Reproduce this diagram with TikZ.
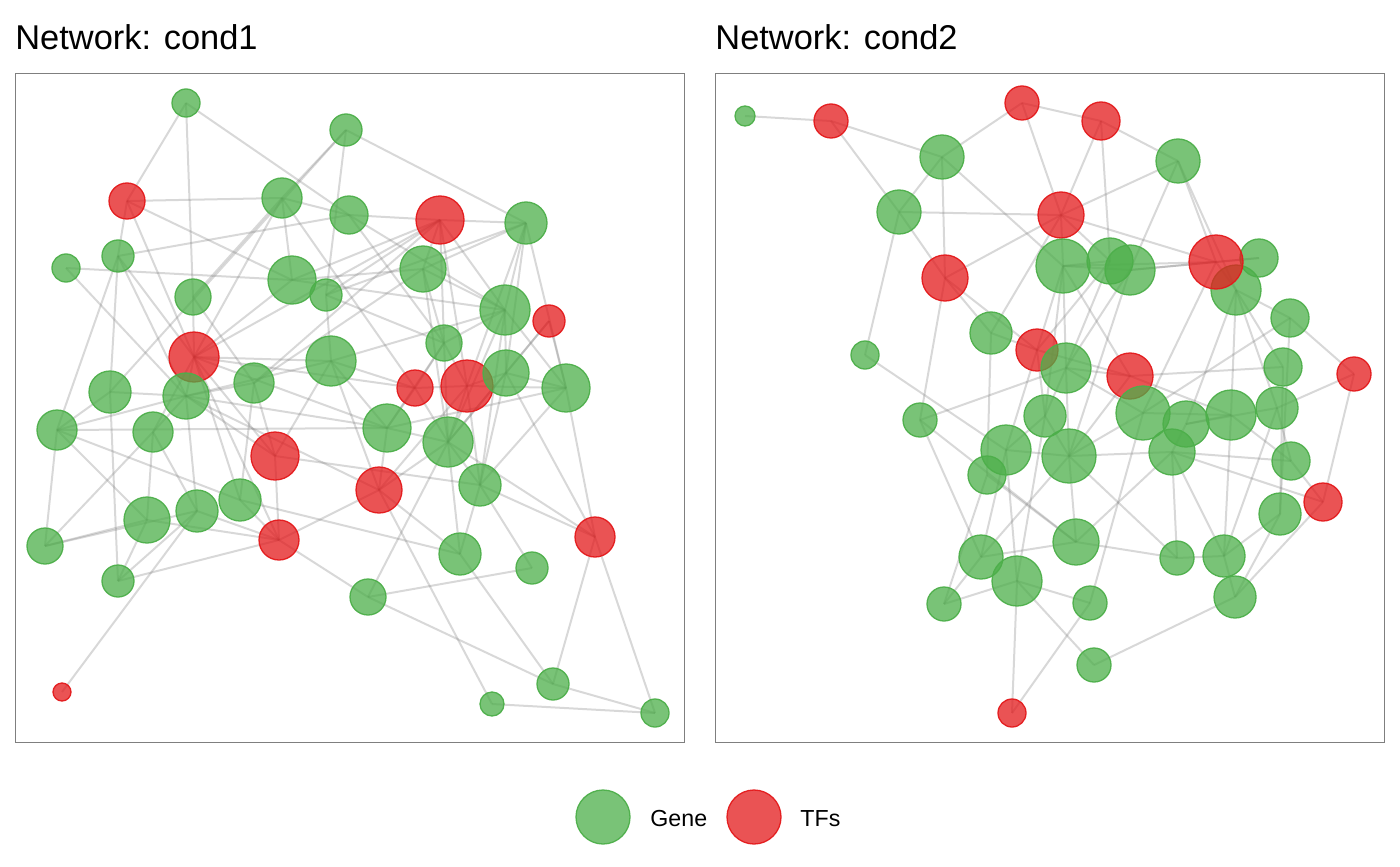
\documentclass[tikz,border=0pt]{standalone}
\usepackage{fontspec}
\setmainfont{Liberation Sans}
\usetikzlibrary{backgrounds}
\definecolor{geneC}{HTML}{4DAF4A}
\definecolor{tfC}{HTML}{E41A1C}
\definecolor{frameC}{HTML}{7F7F7F}
\tikzset{
  gn/.style={circle,inner sep=0pt,minimum size=#1pt,fill=geneC,fill opacity=0.75,draw=geneC,draw opacity=0.95,line width=0.65pt},
  tf/.style={circle,inner sep=0pt,minimum size=#1pt,fill=tfC,fill opacity=0.75,draw=tfC,draw opacity=0.95,line width=0.65pt},
  ed/.style={draw=black!50,draw opacity=0.3,line width=1pt},
  panel/.style={draw=frameC,line width=0.5pt},
  ttl/.style={anchor=base west,inner sep=0pt,font=\fontsize{17.2}{20}\selectfont},
  lg/.style={anchor=base west,inner sep=0pt,font=\fontsize{11.6}{14}\selectfont}
}
\begin{document}
\begin{tikzpicture}[x=0.5pt,y=-0.5pt]
\useasboundingbox (0,0) rectangle (1400,866);
% titles
\node[ttl] (t1) at (15,50) {Network: cond1};
\node[ttl] (t2) at (715,50) {Network: cond2};
% frames
\node[panel,minimum width=334.5pt,minimum height=334.5pt,inner sep=0pt,anchor=north west] (f1) at (15,73) {};
\node[panel,minimum width=334.5pt,minimum height=334.5pt,inner sep=0pt,anchor=north west] (f2) at (715,73) {};
% ---------------- panel 1 nodes
\node[gn=14] (a1) at (186,103) {};
\node[gn=16] (a2) at (346,130) {};
\node[tf=18] (a3) at (127,201) {};
\node[gn=20] (a4) at (282,198) {};
\node[gn=19] (a5) at (349,215) {};
\node[tf=24] (a6) at (440,220) {};
\node[gn=21] (a7) at (526,223) {};
\node[gn=16] (a8) at (118,256) {};
\node[gn=14] (a9) at (66,268) {};
\node[gn=24] (a10) at (292,280) {};
\node[gn=16] (a11) at (326,295) {};
\node[gn=18] (a12) at (193,297) {};
\node[gn=23] (a13) at (423,269) {};
\node[gn=25] (a14) at (505,310) {};
\node[tf=16] (a15) at (549,321) {};
\node[gn=18] (a16) at (444,343) {};
\node[tf=25] (a17) at (194,357) {};
\node[gn=25] (a18) at (331,361) {};
\node[gn=21] (a19) at (110,392) {};
\node[gn=23] (a20) at (186,396) {};
\node[gn=20] (a21) at (254,383) {};
\node[tf=18] (a22) at (415,388) {};
\node[tf=26] (a23) at (467,386) {};
\node[gn=23] (a24) at (506,373) {};
\node[gn=24] (a25) at (566,388) {};
\node[gn=20] (a26) at (57,430) {};
\node[gn=20] (a27) at (153,432) {};
\node[gn=24] (a28) at (387,428) {};
\node[gn=25] (a29) at (448,442) {};
\node[tf=24] (a30) at (275,456) {};
\node[tf=23] (a31) at (379,490) {};
\node[gn=21] (a32) at (480,485) {};
\node[gn=21] (a33) at (240,500) {};
\node[gn=23] (a34) at (147,520) {};
\node[gn=21] (a35) at (197,511) {};
\node[tf=20] (a36) at (279,540) {};
\node[gn=18] (a37) at (45,546) {};
\node[gn=21] (a38) at (460,554) {};
\node[gn=16] (a39) at (532,568) {};
\node[tf=20] (a40) at (595,537) {};
\node[gn=16] (a41) at (118,581) {};
\node[gn=18] (a42) at (368,597) {};
\node[tf=9] (a43) at (62,692) {};
\node[gn=16] (a44) at (553,684) {};
\node[gn=12] (a45) at (492,704) {};
\node[gn=14] (a46) at (655,713) {};
% ---------------- panel 2 nodes
\node[gn=10] (pA) at (745,116) {};
\node[tf=17] (pB) at (831,121) {};
\node[tf=17] (pC) at (1022,103) {};
\node[tf=19] (pD) at (1101,121) {};
\node[gn=22] (pE) at (942,157) {};
\node[gn=22] (pF) at (1178,161) {};
\node[gn=22] (pG) at (899,212) {};
\node[tf=23] (pH) at (1061,215) {};
\node[tf=23] (pI) at (945,278) {};
\node[gn=27] (pJ) at (1063,266) {};
\node[gn=23] (pK) at (1110,261) {};
\node[gn=25] (pL) at (1130,270) {};
\node[gn=19] (pN) at (1259,258) {};
\node[gn=25] (pO) at (1236,290) {};
\node[tf=27] (pM) at (1216,262) {};
\node[gn=19] (pP) at (1290,318) {};
\node[gn=21] (pQ) at (991,333) {};
\node[tf=21] (pR) at (1037,350) {};
\node[gn=14] (pS) at (865,355) {};
\node[gn=25] (pT) at (1066,368) {};
\node[tf=23] (pU) at (1130,376) {};
\node[gn=19] (pV) at (1283,367) {};
\node[tf=17] (pW) at (1354,374) {};
\node[gn=17] (pX) at (920,420) {};
\node[gn=21] (pY) at (1045,416) {};
\node[gn=27] (pZ) at (1143,413) {};
\node[gn=23] (pAA) at (1186,424) {};
\node[gn=25] (pAB) at (1231,415) {};
\node[gn=21] (pAC) at (1277,408) {};
\node[gn=25] (pAD) at (1006,450) {};
\node[gn=19] (pAE) at (987,475) {};
\node[gn=27] (pAF) at (1069,456) {};
\node[gn=23] (pAG) at (1172,452) {};
\node[gn=19] (pAH) at (1291,461) {};
\node[tf=19] (pAI) at (1323,502) {};
\node[gn=21] (pAJ) at (1280,514) {};
\node[gn=23] (pAK) at (1076,542) {};
\node[gn=22] (pAL) at (981,557) {};
\node[gn=25] (pAM) at (1017,581) {};
\node[gn=17] (pAN) at (1177,558) {};
\node[gn=21] (pAO) at (1224,556) {};
\node[gn=17] (pAP) at (944,604) {};
\node[gn=17] (pAQ) at (1090,603) {};
\node[gn=21] (pAR) at (1235,597) {};
\node[gn=17] (pAS) at (1094,665) {};
\node[tf=14] (pAT) at (1012,713) {};
% ---------------- edges
\begin{scope}[on background layer]
\fill[white] (0,0) rectangle (1400,866);
\foreach \u/\v in {a1/a3,a1/a12,a1/a5,a2/a4,a2/a11,a2/a7,a2/a19,a3/a4,a3/a8,a3/a10,a3/a17,
a4/a5,a4/a10,a4/a17,a4/a12,a4/a22,a5/a6,a5/a8,a5/a14,a5/a16,
a6/a7,a6/a10,a6/a13,a6/a14,a6/a16,a6/a23,a6/a17,a6/a21,a6/a11,
a7/a13,a7/a14,a7/a23,a7/a24,a7/a25,a7/a11,a8/a17,a8/a20,a8/a26,a8/a19,a9/a10,a9/a20,
a10/a14,a10/a17,a10/a13,a11/a16,a11/a18,a12/a17,a12/a21,
a13/a14,a13/a16,a13/a29,a13/a21,a14/a16,a14/a24,a14/a25,a14/a29,a14/a32,a14/a18,
a15/a25,a15/a24,a15/a29,a16/a22,a16/a23,a16/a28,a16/a29,
a17/a18,a17/a20,a17/a27,a17/a30,a17/a22,a17/a28,a17/a36,a17/a33,
a18/a20,a18/a28,a18/a22,a18/a30,a18/a31,a19/a20,a19/a26,a19/a41,
a20/a21,a20/a28,a20/a30,a20/a31,a20/a35,a20/a27,a20/a26,a21/a30,a21/a33,
a22/a23,a22/a28,a22/a29,a23/a24,a23/a25,a23/a29,a23/a32,a23/a31,
a24/a25,a24/a29,a24/a32,a24/a40,a25/a32,a25/a40,a25/a28,
a26/a28,a26/a33,a26/a34,a26/a37,a27/a34,a27/a35,a27/a37,a28/a29,a28/a31,
a29/a32,a29/a38,a29/a40,a29/a42,a29/a31,a30/a32,a30/a36,a31/a36,a31/a38,a31/a45,
a32/a38,a32/a39,a32/a40,a33/a36,a33/a38,a34/a36,a34/a37,a34/a41,
a35/a36,a35/a37,a35/a41,a35/a43,a36/a41,a36/a42,
a38/a44,a39/a42,a40/a44,a40/a46,a42/a44,a44/a46,a45/a46}
  \draw[ed] (\u.center) -- (\v.center);
\foreach \u/\v in {pA/pB,pB/pE,pB/pG,pC/pE,pC/pD,pC/pH,pE/pG,pE/pI,pE/pJ,pG/pH,pG/pI,pG/pS,
pI/pH,pI/pQ,pQ/pR,pI/pR,pI/pX,pQ/pAE,pQ/pH,pS/pAD,pX/pT,pX/pAL,pX/pAK,
pD/pF,pD/pH,pD/pK,pF/pH,pF/pM,pF/pO,pF/pL,pH/pK,pH/pM,pH/pJ,pJ/pK,pJ/pL,pJ/pM,pJ/pT,pJ/pU,pJ/pR,
pL/pM,pL/pN,pL/pT,pM/pN,pM/pO,pM/pZ,pO/pAB,pO/pAA,pO/pV,pO/pAC,pO/pP,pP/pW,pP/pZ,pP/pAJ,
pW/pAI,pW/pAC,pU/pV,pT/pU,pR/pU,pU/pAB,pV/pAJ,pAC/pAH,pAC/pAA,pAC/pAO,pAH/pAI,pAG/pAH,pAB/pAH,
pAI/pAG,pAI/pAR,pAJ/pAO,pAJ/pAR,pAO/pAN,pAO/pAR,pAB/pAO,pAO/pAG,pAN/pAG,pAK/pAN,pAN/pAF,
pAR/pAS,pAM/pAS,pAQ/pZ,pAQ/pAT,pAM/pAQ,pAK/pAF,pAK/pAG,pAK/pAL,pAK/pAE,pAL/pAD,pAL/pAF,pAL/pAP,
pAM/pAD,pAM/pAP,pAM/pAT,pAP/pAE,pAD/pY,pAD/pAF,pAD/pR,pAF/pAG,pAF/pT,pAF/pY,pAF/pU,pAF/pZ,
pY/pT,pY/pR,pY/pJ,pY/pAM,pT/pZ,pR/pK,pZ/pAB,pAA/pAB,pAA/pAG,pK/pT,pL/pAF}
  \draw[ed] (\u.center) -- (\v.center);
\end{scope}
% ---------------- legend
\node[gn=27] (lg1) at (603,817) {};
\node[lg] (lt1) at (650,826) {Gene};
\node[tf=27] (lg2) at (754,817) {};
\node[lg] (lt2) at (800,826) {TFs};
\end{tikzpicture}
\end{document}
